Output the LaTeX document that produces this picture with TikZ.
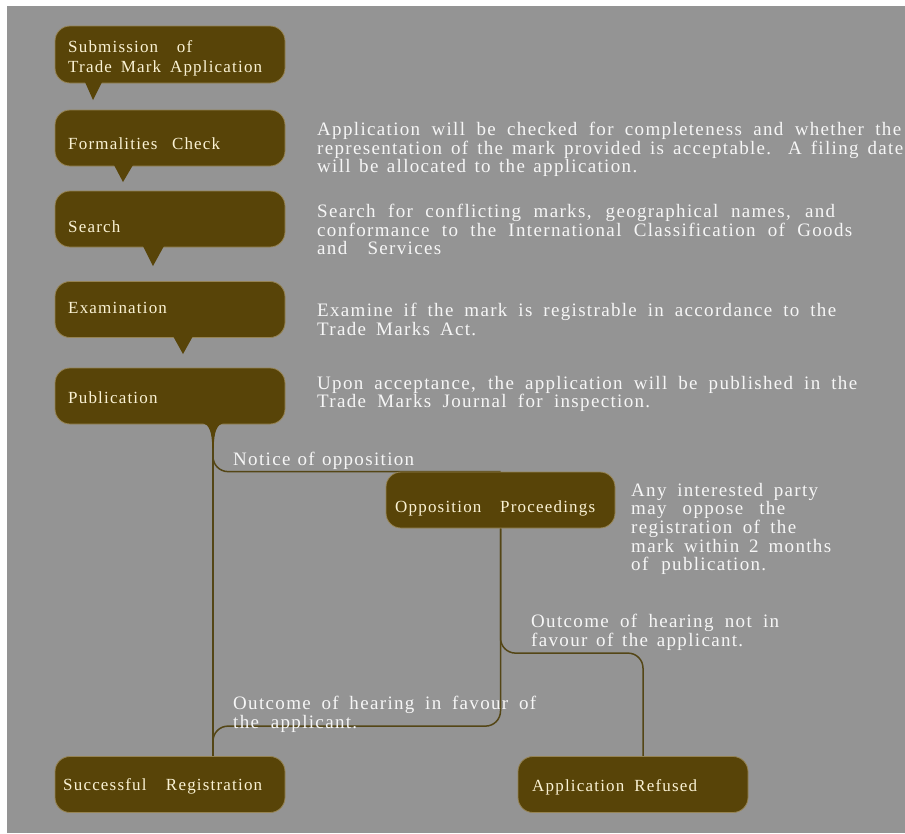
\documentclass[tikz,border=0pt]{standalone}
\usepackage{fontspec}
\setmainfont{Liberation Serif}[LetterSpace=7]
\usetikzlibrary{calc,backgrounds}
\definecolor{bg}{RGB}{148,148,148}
\definecolor{boxfill}{RGB}{88,68,8}
\definecolor{boxedge}{RGB}{150,132,84}
\definecolor{cream}{RGB}{250,242,212}
\definecolor{desc}{RGB}{246,246,246}
\definecolor{wire}{RGB}{84,70,22}
\newcommand{\jl}[2]{\hbox to #1pt{#2}}
\hbadness=10000
\tikzset{
  box/.style={fill=boxfill, draw=boxedge, line width=0.8pt, rounded corners=15pt,
    minimum width=230pt, minimum height=56pt, inner sep=0pt},
  boxlabel/.style={text=cream, font=\fontsize{17}{20}\selectfont, inner sep=0pt, anchor=base west, align=left},
  desctext/.style={text=desc, font=\fontsize{19}{18.6}\selectfont, inner sep=0pt, anchor=north west, align=left},
  conn/.style={draw=wire, line width=1.5pt, rounded corners=15pt},
  pointer/.style={fill=boxfill}
}
\begin{document}
\begin{tikzpicture}[x=1pt,y=-1pt]
\useasboundingbox (0,0) rectangle (905,833);
\begin{scope}[on background layer]
  \fill[white] (0,0) rectangle (905,833);
  \fill[bg] (7,6) rectangle (905,833);
\end{scope}

% boxes
\node[box, minimum height=57pt] (sub) at (170,54.5) {};
\node[box] (form) at (170,138) {};
\node[box] (search) at (170,219) {};
\node[box] (exam) at (170,309.5) {};
\node[box] (pub) at (170,396) {};
\node[box, minimum width=229pt] (opp) at (500.5,500) {};
\node[box] (succ) at (170,784.5) {};
\node[box] (ref) at (633,784.5) {};

% pointers
\fill[pointer] (85,82) -- (93,100) -- (102,82) -- cycle;
\fill[pointer] (114,165) -- (123,182) -- (133,165) -- cycle;
\fill[pointer] (143,246) -- (153,266) -- (164,246) -- cycle;
\fill[pointer] (173,336) -- (183,354) -- (193,336) -- cycle;
\fill[pointer] (203,423) .. controls (209,425) and (212,431) .. (212.3,448)
  -- (213.7,448) .. controls (214,431) and (217,425) .. (223,423) -- cycle;

% box labels
\node[boxlabel] (subl) at (68,52) {\jl{124}{Submission of}};
\node[boxlabel] (subl2) at (68,72) {\jl{194}{Trade Mark Application}};
\node[boxlabel] (forml) at (68,149) {\jl{152}{Formalities Check}};
\node[boxlabel] (searchl) at (68,232) {Search};
\node[boxlabel] (examl) at (68,313) {Examination};
\node[boxlabel] (publ) at (68,403) {Publication};
\node[boxlabel] (oppl) at (395,512) {\jl{200}{Opposition Proceedings}};
\node[boxlabel] (succl) at (63,790) {\jl{199}{Successful Registration}};
\node[boxlabel] (refl) at (532,791) {\jl{165}{Application Refused}};

% connectors
\coordinate (pubx) at (213,0);
\coordinate (refx) at (643,0);
\begin{scope}[on background layer]
  \draw[conn] (pub.south -| pubx) -- (succ.north -| pubx);
  \draw[conn] (pub.south -| pubx) |- (opp.north);
  \draw[conn] (opp.south) |- ($(succ.north -| pubx)+(0,-30)$) -- (succ.north -| pubx);
  \draw[conn] (opp.south) |- ($(ref.north -| refx)+(0,-103)$) -- (ref.north -| refx);
\end{scope}

% descriptions
\node[desctext] (d1) at (317,122) {\jl{584}{Application will be checked for completeness and whether the}\\
  \jl{586}{representation of the mark provided is acceptable. A filing date}\\
  \jl{320}{will be allocated to the application.}};
\node[desctext] (d2) at (317,204) {\jl{518}{Search for conflicting marks, geographical names, and}\\
  \jl{535}{conformance to the International Classification of Goods}\\
  \jl{124}{and Services}};
\node[desctext] (d3) at (317,303) {\jl{519}{Examine if the mark is registrable in accordance to the}\\
  \jl{159}{Trade Marks Act.}};
\node[desctext] (d4) at (317,376) {\jl{540}{Upon acceptance, the application will be published in the}\\
  \jl{333}{Trade Marks Journal for inspection.}};
\node[desctext] (d5) at (631,483) {\jl{187}{Any interested party}\\
  \jl{154}{may oppose the}\\
  \jl{165}{registration of the}\\
  \jl{200}{mark within 2 months}\\
  \jl{135}{of publication.}};

% connector labels
\node[desctext] (l1) at (233,452) {\jl{181}{Notice of opposition}};
\node[desctext] (l2) at (531,614) {\jl{248}{Outcome of hearing not in}\\
  \jl{212}{favour of the applicant.}};
\node[desctext] (l3) at (233,696) {\jl{303}{Outcome of hearing in favour of}\\
  \jl{124}{the applicant.}};
\end{tikzpicture}
\end{document}
